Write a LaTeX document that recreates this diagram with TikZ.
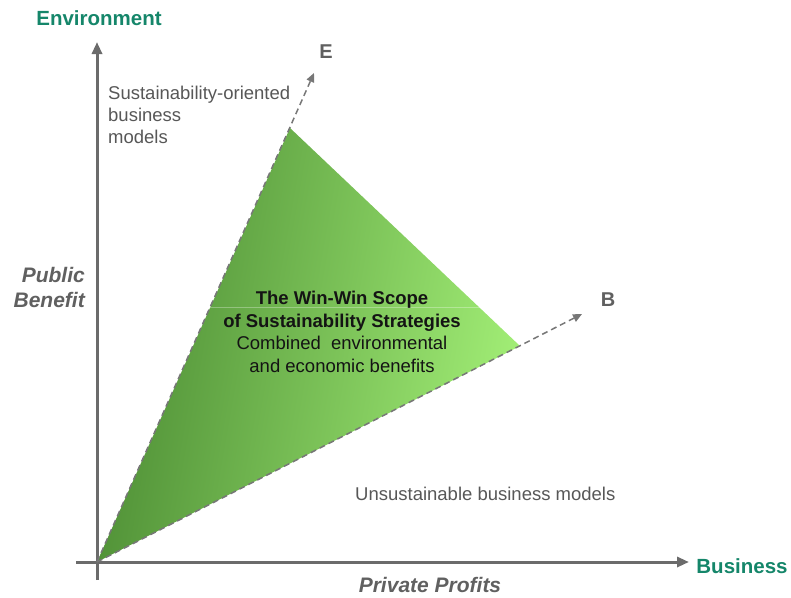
\documentclass[tikz,border=0pt]{standalone}
\usepackage{fontspec}
\setmainfont{Liberation Sans}
\usetikzlibrary{arrows.meta}
\definecolor{axisgrey}{HTML}{6B6B6B}
\definecolor{dashgrey}{HTML}{777777}
\definecolor{headgreen}{HTML}{15866A}
\definecolor{labelgrey}{HTML}{606060}
\definecolor{bodygrey}{HTML}{575757}
\definecolor{darkleaf}{HTML}{4A8A32}
\definecolor{lightleaf}{HTML}{A2EE76}
\tikzset{
  axisline/.style={draw=axisgrey, line width=3pt,
    -{Triangle[length=12pt,width=10pt]}},
  dashray/.style={draw=dashgrey, line width=1.5pt, dash pattern=on 6pt off 4pt,
    -{Triangle[length=9pt,width=8pt]}},
  headtext/.style={font=\fontsize{20.5}{24}\selectfont\bfseries, text=headgreen, inner sep=0pt},
  axislabel/.style={font=\fontsize{21}{25}\selectfont\bfseries\itshape, text=labelgrey, inner sep=0pt},
  raylabel/.style={font=\fontsize{20}{24}\selectfont\bfseries, text=labelgrey, inner sep=0pt},
  bodytext/.style={font=\fontsize{18.5}{22}\selectfont, text=bodygrey, inner sep=0pt},
  scopetext/.style={font=\fontsize{18.5}{22.7}\selectfont, text=black!92, inner sep=0pt, align=center},
}
\begin{document}
\begin{tikzpicture}[x=1pt,y=-1pt]
\useasboundingbox (0,0) rectangle (791,597);

% key points of the chart
\coordinate (O) at (97,562);
\coordinate (ytop) at (97,42);
\coordinate (ybot) at (97,580);
\coordinate (xleft) at (76,562);
\coordinate (xright) at (689,562);
\coordinate (Eapex) at (290,128);
\coordinate (Etip) at (314,73);
\coordinate (Bapex) at (520,346);
\coordinate (Btip) at (582,314);

% win-win area
\shade[left color=darkleaf, right color=lightleaf, shading angle=80]
  (O) -- (Eapex) -- (Bapex) -- cycle;
\draw[white, opacity=0.3, line width=0.8pt] (97,307) -- (520,307);

% axes
\draw[axisline] (ybot) -- (ytop);
\draw[axisline] (xleft) -- (xright);

% rays
\draw[dashray] (O) -- (Etip);
\draw[dashray] (O) -- (Btip);

% labels
\node[headtext] (env) at (99,18) {Environment};
\node[headtext] (bus) at (742,566) {Business};
\node[axislabel, align=right, anchor=east] (pb) at (85,287) {Public\\Benefit};
\node[axislabel] (pp) at (430,585) {Private Profits};
\node[raylabel] (Elab) at (326,52) {E};
\node[raylabel] (Blab) at (608,300) {B};

\node[bodytext, align=left, anchor=north west] (sust) at (108,86)
  {Sustainability-oriented\\business\\models};
\node[bodytext, anchor=base west] (unsust) at (355,500) {Unsustainable business models};
\node[scopetext, anchor=north] (scope) at (342,290.7)
  {\textbf{The Win-Win Scope}\\\textbf{of Sustainability Strategies}\\Combined\ \ environmental\\and economic benefits};
\end{tikzpicture}
\end{document}
